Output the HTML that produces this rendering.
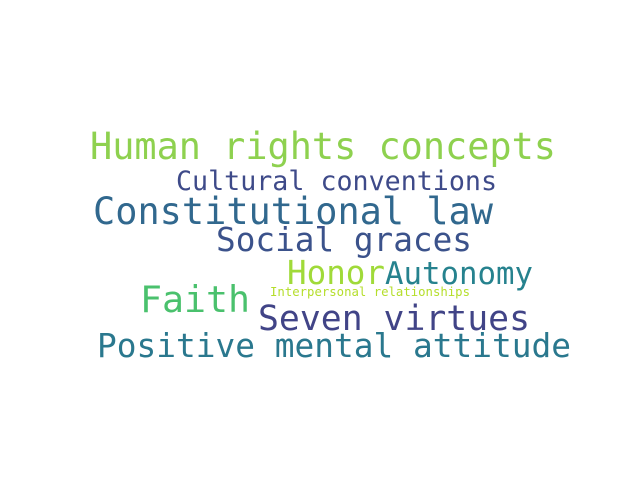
<!DOCTYPE html>
<html><head><meta charset="utf-8"><style>
html,body{margin:0;padding:0;background:#fff;}
svg{display:block;}
text{font-family:"DejaVu Sans Mono",monospace;}
</style></head><body>
<svg width="640" height="480" viewBox="0 0 640 480">
<rect width="640" height="480" fill="#fff"/>
<text x="90" y="159" font-size="37" fill="#8ed14f" textLength="466" lengthAdjust="spacingAndGlyphs">Human rights concepts</text>
<text x="176" y="190" font-size="26.5" fill="#3e4a89" textLength="321" lengthAdjust="spacingAndGlyphs">Cultural conventions</text>
<text x="93" y="224" font-size="37" fill="#31688e" textLength="400" lengthAdjust="spacingAndGlyphs">Constitutional law</text>
<text x="216" y="251" font-size="32.5" fill="#3b528b" textLength="256" lengthAdjust="spacingAndGlyphs">Social graces</text>
<text x="287" y="284" font-size="32.5" fill="#a0da39" textLength="98" lengthAdjust="spacingAndGlyphs">Honor</text>
<text x="385" y="284" font-size="30.7" fill="#26828e" textLength="148" lengthAdjust="spacingAndGlyphs">Autonomy</text>
<text x="270" y="296" font-size="12.3" fill="#b5de2b" textLength="200" lengthAdjust="spacingAndGlyphs">Interpersonal relationships</text>
<text x="140" y="312" font-size="36.5" fill="#4ac16d" textLength="110" lengthAdjust="spacingAndGlyphs">Faith</text>
<text x="258" y="330" font-size="34.7" fill="#414487" textLength="272" lengthAdjust="spacingAndGlyphs">Seven virtues</text>
<text x="97" y="357" font-size="32.8" fill="#2a788e" textLength="474" lengthAdjust="spacingAndGlyphs">Positive mental attitude</text>
</svg>
</body></html>
